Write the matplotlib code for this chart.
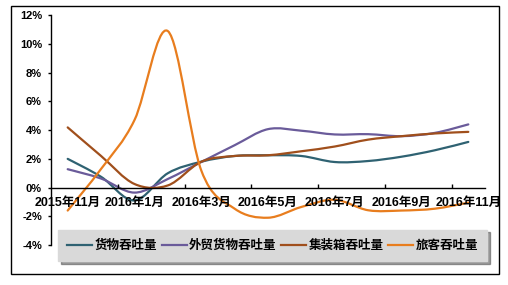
import matplotlib
matplotlib.use("Agg")
import matplotlib.pyplot as plt
from matplotlib import font_manager
from matplotlib.path import Path
from matplotlib.patches import PathPatch, Rectangle
from matplotlib.lines import Line2D
import numpy as np

# ---------------- data ----------------
months = ['2015年11月', '2015年12月', '2016年1月', '2016年2月', '2016年3月', '2016年4月',
          '2016年5月', '2016年6月', '2016年7月', '2016年8月', '2016年9月', '2016年10月',
          '2016年11月']
series_names = ['货物吞吐量', '外贸货物吞吐量', '集装箱吞吐量', '旅客吞吐量']
cargo = [2.0, 0.75, -0.9, 1.0, 1.8, 2.2, 2.25, 2.2, 1.78, 1.85, 2.15, 2.6, 3.18]
foreign = [1.28, 0.63, -0.35, 0.6, 1.78, 2.95, 4.07, 3.96, 3.7, 3.72, 3.58, 3.81, 4.4]
container = [4.19, 2.2, 0.25, 0.15, 1.8, 2.2, 2.25, 2.53, 2.86, 3.34, 3.58, 3.77, 3.88]
passenger = [-1.6, 1.3, 4.7, 10.9, 1.2, -1.47, -2.1, -1.35, -0.85, -1.58, -1.6, -1.47, -1.05]
ytick_vals = [-4, -2, 0, 2, 4, 6, 8, 10, 12]
ytick_labels = ['-4%', '-2%', '0%', '2%', '4%', '6%', '8%', '10%', '12%']

colors = ['#2f6272', '#6a5b9a', '#a04f1c', '#e87d1e']

# ---------------- fonts ----------------
def has_font(name):
    try:
        font_manager.findfont(font_manager.FontProperties(family=name), fallback_to_default=False)
        return True
    except Exception:
        return False

num_font = 'Liberation Sans Narrow' if has_font('Liberation Sans Narrow') else 'Liberation Sans'
fam = [num_font, 'Noto Sans CJK SC', 'DejaVu Sans']
plt.rcParams['font.family'] = fam
plt.rcParams['font.weight'] = 'bold'

W, H = 508, 285
fig = plt.figure(figsize=(W / 100, H / 100), dpi=100)

# outer frame
fig.patches.append(Rectangle((11 / W, 1 - 274 / H), 488 / W, 268 / H, transform=fig.transFigure,
                             fill=False, edgecolor='black', linewidth=1.0))

ax_l, ax_r, ax_t, ax_b = 51, 485, 15.3, 245.0
ax = fig.add_axes([ax_l / W, 1 - ax_b / H, (ax_r - ax_l) / W, (ax_b - ax_t) / H])
ax.set_xlim(-0.5, len(months) - 0.5)
ax.set_ylim(-4, 12)
ax.patch.set_visible(False)

for s in ['top', 'right']:
    ax.spines[s].set_visible(False)
ax.spines['left'].set_linewidth(1.0)
ax.spines['bottom'].set_position(('data', 0))
ax.spines['bottom'].set_linewidth(1.0)

# y axis
ax.set_yticks(ytick_vals)
ax.set_yticklabels(ytick_labels, fontsize=8, fontweight='bold')
ax.tick_params(axis='y', direction='out', length=2.5, width=1.0, pad=4)

# x axis: tick marks between category pairs, labels at every other category
xpos = np.arange(len(months))
ax.set_xticks(xpos[1::2] + 0.5)
ax.set_xticklabels([])
ax.tick_params(axis='x', which='major', direction='in', length=3, width=1.0)
ax.set_xticks(xpos[::2], minor=True)
ax.set_xticklabels(months[::2], minor=True, fontsize=9, fontweight='bold')
ax.tick_params(axis='x', which='minor', length=0, pad=7)


def smooth_path(xs, ys):
    P = np.column_stack([xs, ys]).astype(float)
    n = len(P)
    verts = [P[0]]
    codes = [Path.MOVETO]
    for i in range(n - 1):
        p0 = P[i - 1] if i > 0 else P[i]
        p1 = P[i]
        p2 = P[i + 1]
        p3 = P[i + 2] if i + 2 < n else P[i + 1]
        c1 = p1 + (p2 - p0) / 6.0
        c2 = p2 - (p3 - p1) / 6.0
        verts += [c1, c2, p2]
        codes += [Path.CURVE4] * 3
    return Path(verts, codes)


all_series = [cargo, foreign, container, passenger]
for vals, c in zip(all_series, colors):
    patch = PathPatch(smooth_path(xpos, vals), fill=False, edgecolor=c, linewidth=1.6,
                      transform=ax.transData, capstyle='round', joinstyle='round')
    ax.add_patch(patch)

handles = [Line2D([], [], color=c, linewidth=1.6) for c in colors]
leg = fig.legend(handles, series_names, loc='center', bbox_to_anchor=(272.5 / W, 1 - 245.5 / H),
                 ncol=4, frameon=True, fancybox=False, shadow=True,
                 prop={'family': ['Noto Sans CJK SC', 'DejaVu Sans'], 'weight': 'bold', 'size': 9},
                 handlelength=2.0, handletextpad=0.2, columnspacing=0.35,
                 borderpad=0.75, borderaxespad=0)
frame = leg.get_frame()
frame.set_facecolor('#d9d9d9')
frame.set_edgecolor('#d9d9d9')
frame.set_alpha(1)

fig.savefig('out.png', dpi=100)
